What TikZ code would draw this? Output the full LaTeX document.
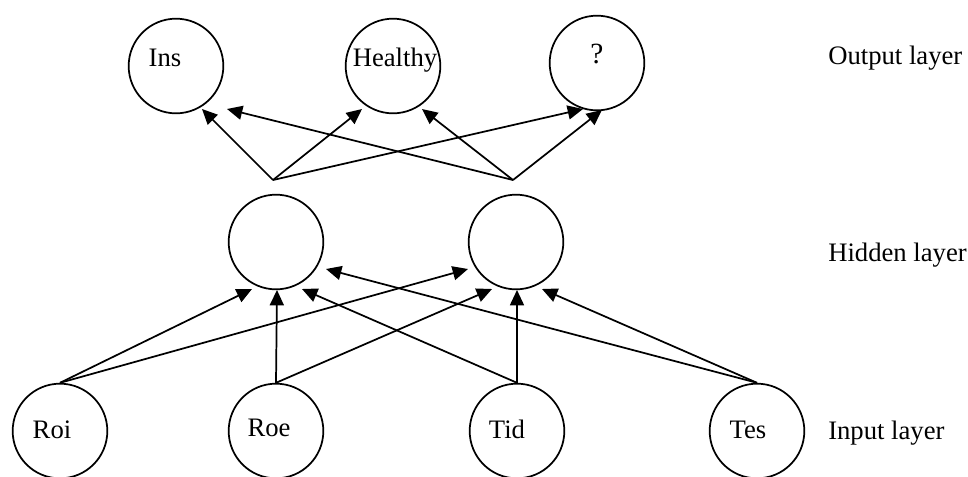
\documentclass[tikz,border=0pt]{standalone}
\usepackage{fontspec}
\setmainfont{Liberation Serif}
\usetikzlibrary{arrows.meta}
\begin{document}
\begin{tikzpicture}[x=0.75pt,y=-0.75pt,
  neuron/.style={draw,circle,minimum size=71pt,inner sep=0pt,line width=1.3pt},
  conn/.style={line width=1.3pt,-{Triangle[length=11.5pt,width=10.5pt]}},
  txt/.style={font=\fontsize{20}{24}\selectfont,anchor=base,inner sep=0pt},
  lay/.style={font=\fontsize{20}{24}\selectfont,anchor=base west,inner sep=0pt}]
\useasboundingbox (0,0) rectangle (968,476);
% output layer
\node[neuron] (ins) at (176,66) {};
\node[neuron] (hea) at (393,66) {};
\node[neuron] (unk) at (597,63) {};
% hidden layer
\node[neuron] (h1) at (276,242) {};
\node[neuron] (h2) at (516,242) {};
% input layer
\node[neuron] (roi) at (60,431) {};
\node[neuron] (roe) at (276,431) {};
\node[neuron] (tid) at (517,431) {};
\node[neuron] (tes) at (757,431) {};
% texts
\node[txt] (tins) at (165,66) {Ins};
\node[txt] (thea) at (395,66) {Healthy};
\node[txt,font=\fontsize{22}{26}\selectfont] (tunk) at (597,63) {?};
\node[txt] (troi) at (52,438) {Roi};
\node[txt] (troe) at (269,436) {Roe};
\node[txt] (ttid) at (507,438) {Tid};
\node[txt] (ttes) at (748,438) {Tes};
\node[lay] (lout) at (828,64) {Output layer};
\node[lay] (lhid) at (828,261) {Hidden layer};
\node[lay] (linp) at (828,439) {Input layer};
% apex points above hidden nodes
\coordinate (a1) at (273,180);
\coordinate (a2) at (513,180);
% tips at output layer
\coordinate (t11) at (202,109);
\coordinate (t12) at (362,109);
\coordinate (t13) at (583,109);
\coordinate (t21) at (227,109);
\coordinate (t22) at (422,109);
\coordinate (t23) at (602,110);
\draw[conn] (a1) -- (t11);
\draw[conn] (a1) -- (t12);
\draw[conn] (a1) -- (t13);
\draw[conn] (a2) -- (t21);
\draw[conn] (a2) -- (t22);
\draw[conn] (a2) -- (t23);
% tips at hidden layer
\coordinate (r1) at (252,289);
\coordinate (r2) at (468,269);
\coordinate (e1) at (277,290);
\coordinate (e2) at (492,289);
\coordinate (d1) at (302,289);
\coordinate (d2) at (517,290);
\coordinate (s1) at (326,269);
\coordinate (s2) at (542,289);
\draw[conn] (roi.north) -- (r1);
\draw[conn] (roi.north) -- (r2);
\draw[conn] (roe.north) -- (e1);
\draw[conn] (roe.north) -- (e2);
\draw[conn] (tid.north) -- (d1);
\draw[conn] (tid.north) -- (d2);
\draw[conn] (tes.north) -- (s1);
\draw[conn] (tes.north) -- (s2);
\end{tikzpicture}
\end{document}
